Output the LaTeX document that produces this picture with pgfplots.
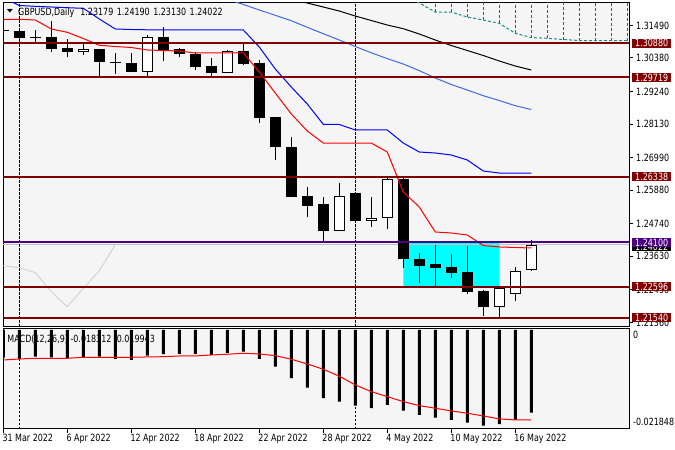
\documentclass[border=0pt]{standalone}
\usepackage{fontspec}
\setmainfont{DejaVu Sans}[FakeStretch=0.8]
\newfontfamily\symf{DejaVu Sans}
\usepackage{pgfplots}
\usepackage{pgfplotstable}
\pgfplotsset{compat=1.18}
\definecolor{plotbg}{RGB}{245,245,245}
\definecolor{lvl}{RGB}{128,0,0}
\definecolor{lvlp}{RGB}{75,0,130}
\definecolor{teal2}{RGB}{32,140,130}
\definecolor{hatch}{RGB}{220,20,60}
\definecolor{royal}{RGB}{65,105,225}
\definecolor{chik}{RGB}{212,212,212}
\definecolor{bid}{RGB}{192,192,192}
\definecolor{cy}{RGB}{0,255,255}
\definecolor{pred}{RGB}{255,0,0}
\definecolor{pblue}{RGB}{0,0,255}
\newcommand{\fs}{\fontsize{10}{12}\selectfont}

% black (bearish / doji) candles: x O H L C
\pgfplotstableread{
x O H L C
0 1.31299 1.31503 1.31026 1.31299
1 1.31299 1.31310 1.30992 1.31050
2 1.31071 1.31333 1.30900 1.31071
3 1.31084 1.31649 1.30594 1.30686
4 1.30730 1.31016 1.30403 1.30594
6 1.30686 1.30700 1.29767 1.30254
7 1.30220 1.30540 1.29835 1.30220
8 1.30220 1.30540 1.29900 1.29913
10 1.31084 1.31445 1.30288 1.30652
11 1.30686 1.30710 1.30424 1.30516
12 1.30516 1.30594 1.29971 1.30083
13 1.30107 1.30369 1.29743 1.29879
15 1.30618 1.30846 1.30141 1.30175
16 1.30220 1.30312 1.28167 1.28327
17 1.28361 1.28388 1.26908 1.27340
18 1.27340 1.27701 1.25640 1.25659
19 1.25682 1.25999 1.24978 1.25352
20 1.25400 1.25659 1.24093 1.24501
22 1.25795 1.25829 1.24763 1.24842
25 1.26251 1.26278 1.23221 1.23528
26 1.23538 1.23752 1.22709 1.23310
27 1.23368 1.24015 1.22629 1.23242
28 1.23266 1.23708 1.22881 1.23072
29 1.23085 1.23980 1.22337 1.22425
30 1.22439 1.22483 1.21598 1.21914
}\candB
% white (bullish) candles: x O H L C
\pgfplotstableread{
x O H L C
5 1.30594 1.30880 1.30482 1.30686
9 1.29913 1.31152 1.29743 1.31105
14 1.29879 1.30652 1.29859 1.30628
21 1.24501 1.26115 1.24474 1.25682
23 1.24842 1.25638 1.24637 1.24944
24 1.24923 1.26285 1.24549 1.26251
31 1.21914 1.22560 1.21574 1.22541
32 1.22336 1.23276 1.22119 1.23140
33 1.23179 1.24190 1.23130 1.24022
}\candW

\begin{document}
\begin{tikzpicture}
\useasboundingbox (0,0) rectangle (675bp,-450bp);
\fill[white] (0,0) rectangle (675bp,-450bp);

\begin{axis}[
  at={(3bp,-3bp)}, anchor=north west, scale only axis,
  width=626bp, height=323bp,
  xmin=-0.02, xmax=39.11, ymin=1.21257, ymax=1.32252,
  axis background/.style={fill=plotbg},
  axis line style={black, line width=1bp},
  xtick=\empty,
  ytick={1.3149,1.3038,1.2924,1.2813,1.2699,1.2588,1.2474,1.2363,1.2249,1.2136},
  yticklabels={1.31490,1.30380,1.29240,1.28130,1.26990,1.25880,1.24740,1.23630,1.22490,1.21360},
  ytick pos=right, yticklabel pos=right, tick align=outside,
  major tick length=4bp, tick style={black, line width=1bp},
  yticklabel style={font=\fs, anchor=west, inner sep=0pt, xshift=3bp},
  clip mode=individual,
]
% cyan rectangle
\addplot[fill=cy, draw=none] coordinates {(25,1.22596) (31,1.22596) (31,1.24100) (25,1.24100) (25,1.22596)};
% bid line
\addplot[bid, line width=1bp] coordinates {(-1,1.24022) (41,1.24022)};
% period separators
\addplot[black, line width=1bp, dash pattern=on 2.5bp off 1.5bp] coordinates {(1,1.20) (1,1.33)};
\addplot[black, line width=1bp, dash pattern=on 2.5bp off 1.5bp] coordinates {(22,1.20) (22,1.33)};
% wicks
\addplot[draw=none, mark=none, error bars/.cd, y dir=plus, y explicit, error mark=none,
  error bar style={draw=black, line width=1bp, solid}]
  table[x=x, y=L, y error plus expr=\thisrow{H}-\thisrow{L}] {\candB};
\addplot[draw=none, mark=none, error bars/.cd, y dir=plus, y explicit, error mark=none,
  error bar style={draw=black, line width=1bp, solid}]
  table[x=x, y=L, y error plus expr=\thisrow{H}-\thisrow{L}] {\candW};
% black bodies
\addplot[draw=none, mark=none, error bars/.cd, y dir=plus, y explicit, error mark=none,
  error bar style={draw=black, line width=11bp, solid}]
  table[x=x, y=C, y error plus expr={max(\thisrow{O}-\thisrow{C},0.00034)}] {\candB};
% white bodies: outline then fill
\addplot[draw=none, mark=none, error bars/.cd, y dir=plus, y explicit, error mark=none,
  error bar style={draw=black, line width=11bp, solid}]
  table[x=x, y=O, y error plus expr=\thisrow{C}-\thisrow{O}] {\candW};
\addplot[draw=none, mark=none, error bars/.cd, y dir=plus, y explicit, error mark=none,
  error bar style={draw=white, line width=9bp, solid}]
  table[x=x, y expr=\thisrow{O}+0.00034, y error plus expr=\thisrow{C}-\thisrow{O}-0.00068] {\candW};
% chikou span
\addplot[chik, line width=1bp] coordinates {(0,1.23310) (1,1.23242) (2,1.23072) (3,1.22425) (4,1.21914) (5,1.22541) (6,1.23140) (7,1.24022)};
% cloud hatches
\addplot[draw=none, mark=none, error bars/.cd, y dir=plus, y fixed=0.03, error mark=none,
  error bar style={draw=hatch, line width=1bp, dash pattern=on 3bp off 2bp}]
  coordinates {(27,1.31945) (28,1.31945) (29,1.31775) (30,1.31673) (31,1.31561) (32,1.31220) (33,1.31077) (34,1.31050) (35,1.31009) (36,1.30975) (37,1.30970) (38,1.30970) (39,1.30970)};
% senkou span line
\addplot[teal2, line width=1bp, dash pattern=on 3bp off 2bp] coordinates {(25,1.32524) (26,1.32252) (27,1.31945) (28,1.31945) (29,1.31775) (30,1.31673) (31,1.31561) (32,1.31220) (33,1.31077) (34,1.31050) (35,1.31009) (36,1.30975) (37,1.30970) (38,1.30970) (39,1.30970) (40,1.30970)};
% black moving average
\addplot[black, line width=1bp] coordinates {(18,1.32388) (19,1.32252) (20,1.32116) (21,1.31979) (22,1.31809) (23,1.31656) (24,1.31503) (25,1.31377) (26,1.31197) (27,1.30992) (28,1.30805) (29,1.30635) (30,1.30465) (31,1.30278) (32,1.30107) (33,1.29971)};
% royal blue moving average
\addplot[royal, line width=1bp] coordinates {(14,1.32388) (15,1.32201) (16,1.32014) (17,1.31833) (18,1.31649) (19,1.31425) (20,1.31207) (21,1.30992) (22,1.30771) (23,1.30557) (24,1.30359) (25,1.30175) (26,1.29951) (27,1.29699) (28,1.29478) (29,1.29290) (30,1.29096) (31,1.28933) (32,1.28756) (33,1.28627)};
% kijun-sen
\addplot[pblue, line width=1bp] coordinates {(0,1.32422) (1,1.32167) (2,1.32139) (3,1.32116) (4,1.32092) (5,1.32071) (6,1.31707) (7,1.31367) (8,1.31350) (9,1.31340) (10,1.31333) (11,1.31333) (12,1.31333) (13,1.31333) (14,1.31333) (15,1.31333) (16,1.30754) (17,1.30005) (18,1.29393) (19,1.28814) (20,1.28123) (21,1.28116) (22,1.27929) (23,1.27929) (24,1.27929) (25,1.27486) (26,1.27180) (27,1.27146) (28,1.27078) (29,1.26908) (30,1.26533) (31,1.26465) (32,1.26465) (33,1.26465)};
% tenkan-sen
\addplot[pred, line width=1bp] coordinates {(0,1.31697) (1,1.31697) (2,1.31673) (3,1.31367) (4,1.31254) (5,1.31043) (6,1.30812) (7,1.30771) (8,1.30737) (9,1.30652) (10,1.30635) (11,1.30618) (12,1.30550) (13,1.30550) (14,1.30550) (15,1.30550) (16,1.29903) (17,1.29188) (18,1.28474) (19,1.27895) (20,1.27486) (21,1.27486) (22,1.27486) (23,1.27486) (24,1.27180) (25,1.25819) (26,1.25308) (27,1.24457) (28,1.24423) (29,1.24355) (30,1.23998) (31,1.23947) (32,1.23929) (33,1.23912)};
% horizontal levels
\addplot[lvl, line width=2bp] coordinates {(-1,1.30880) (41,1.30880)};
\addplot[lvl, line width=2bp] coordinates {(-1,1.29719) (41,1.29719)};
\addplot[lvl, line width=2bp] coordinates {(-1,1.26338) (41,1.26338)};
\addplot[lvl, line width=2bp] coordinates {(-1,1.22596) (41,1.22596)};
\addplot[lvl, line width=2bp] coordinates {(-1,1.21540) (41,1.21540)};
\addplot[lvlp, line width=2bp] coordinates {(-1,1.24100) (41,1.24100)};
% title
\node[anchor=base west, inner sep=0pt, font=\fs] at (rel axis cs:0,1) [xshift=15bp, yshift=-12bp] {GBPUSD,Daily\hspace{6bp}1.23179\hspace{3.5bp}1.24190\hspace{3.5bp}1.23130\hspace{3.5bp}1.24022};
\node[anchor=north west, inner sep=0pt] at (rel axis cs:0,1) [xshift=3.7bp, yshift=-6.3bp] {\scalebox{1}[0.6]{\symf\fontsize{8}{8}\selectfont ▼}};
% label anchors
\coordinate (l1) at (axis cs:39.11,1.30880);
\coordinate (l2) at (axis cs:39.11,1.29719);
\coordinate (l3) at (axis cs:39.11,1.26338);
\coordinate (l4) at (axis cs:39.11,1.22596);
\coordinate (l5) at (axis cs:39.11,1.21540);
\coordinate (l6) at (axis cs:39.11,1.24100);
\coordinate (l7) at (axis cs:39.11,1.24022);
\end{axis}

\tikzset{lbl/.style={anchor=west, xshift=3bp, inner sep=0pt, minimum width=39bp, minimum height=9bp, text=white, font=\fs}}
\node[lbl, fill=lvl] at (l1) {1.30880};
\node[lbl, fill=lvl] at (l2) {1.29719};
\node[lbl, fill=lvl] at (l3) {1.26338};
\node[lbl, fill=lvl] at (l4) {1.22596};
\node[lbl, fill=lvl] at (l5) {1.21540};
\node[lbl, fill=black, yshift=-2bp] at (l7) {1.24022};
\node[lbl, fill=lvlp] at (l6) {1.24100};

\begin{axis}[
  at={(3bp,-328bp)}, anchor=north west, scale only axis,
  width=626bp, height=100.5bp,
  xmin=-0.02, xmax=39.11, ymin=-0.021848, ymax=0.00044,
  axis background/.style={fill=plotbg},
  axis line style={black, line width=1bp},
  ytick=\empty,
  xtick={0,4,8,12,16,20,24,28,32},
  xticklabels={31 Mar 2022,6 Apr 2022,12 Apr 2022,18 Apr 2022,22 Apr 2022,28 Apr 2022,4 May 2022,10 May 2022,16 May 2022},
  xtick pos=bottom, tick align=outside,
  major tick length=4bp, tick style={black, line width=1bp},
  xticklabel style={font=\fs, anchor=north west, inner sep=0pt, xshift=-1bp, yshift=-1bp},
  clip mode=individual,
]
\node[anchor=base west, inner sep=0pt, font=\fs] at (rel axis cs:0,1) [xshift=4.3bp, yshift=-14bp] {MACD(12,26,9) -0.018312 -0.019943};
\addplot[black, line width=1bp, dash pattern=on 2.5bp off 1.5bp] coordinates {(1,-0.03) (1,0.01)};
\addplot[black, line width=1bp, dash pattern=on 2.5bp off 1.5bp] coordinates {(22,-0.03) (22,0.01)};
\addplot[ybar, bar width=3bp, fill=black, draw=none] coordinates {(0,-0.00614) (1,-0.00643) (2,-0.00592) (3,-0.00605) (4,-0.00627) (5,-0.00614) (6,-0.00592) (7,-0.00643) (8,-0.00665) (9,-0.00569) (10,-0.00538) (11,-0.00532) (12,-0.00532) (13,-0.00554) (14,-0.00510) (15,-0.00481) (16,-0.00643) (17,-0.00813) (18,-0.01070) (19,-0.01278) (20,-0.01513) (21,-0.01589) (22,-0.01677) (23,-0.01735) (24,-0.01662) (25,-0.01788) (26,-0.01883) (27,-0.01943) (28,-0.01994) (29,-0.02054) (30,-0.02121) (31,-0.02089) (32,-0.01994) (33,-0.018312)};
\addplot[pred, line width=1bp] coordinates {(0,-0.00665) (1,-0.00643) (2,-0.00627) (3,-0.00627) (4,-0.00627) (5,-0.00605) (6,-0.00605) (7,-0.00605) (8,-0.00605) (9,-0.00598) (10,-0.00592) (11,-0.00576) (12,-0.00576) (13,-0.00554) (14,-0.00538) (15,-0.00516) (16,-0.00532) (17,-0.00569) (18,-0.00649) (19,-0.00753) (20,-0.00871) (21,-0.01024) (22,-0.01219) (23,-0.01367) (24,-0.01478) (25,-0.01589) (26,-0.01677) (27,-0.01735) (28,-0.01795) (29,-0.01846) (30,-0.01906) (31,-0.01972) (32,-0.01994) (33,-0.019943)};
\node[anchor=north west, inner sep=0pt, font=\fs] at (rel axis cs:1,1) [xshift=4bp, yshift=-3bp] {0};
\node[anchor=south west, inner sep=0pt, font=\fs] at (rel axis cs:1,0) [xshift=4bp, yshift=3bp] {-0.021848};
\end{axis}
\end{tikzpicture}
\end{document}
